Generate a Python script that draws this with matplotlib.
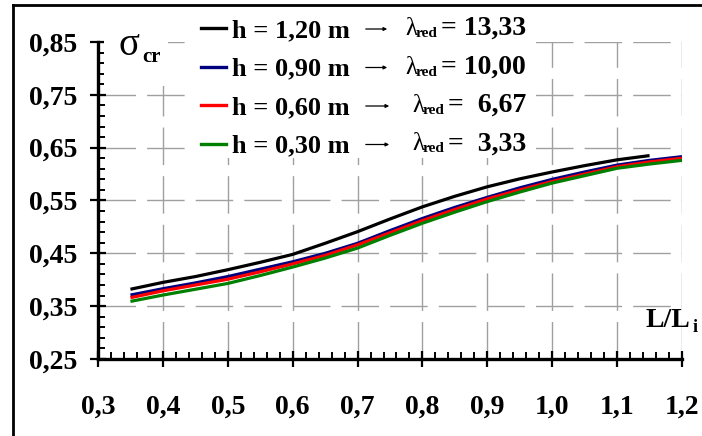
import numpy as np
import matplotlib
matplotlib.use('Agg')
import matplotlib.pyplot as plt
from matplotlib.ticker import FixedLocator, FuncFormatter
from matplotlib.lines import Line2D
from matplotlib.patches import Rectangle, FancyArrowPatch

# ---- data ----
x_long = [0.35, 0.40, 0.45, 0.50, 0.55, 0.60, 0.65, 0.70, 0.75, 0.80,
          0.85, 0.90, 0.95, 1.00, 1.05, 1.10, 1.15, 1.20]
x_black = x_long[:-1]
y_black = [0.382, 0.395, 0.406, 0.419, 0.433, 0.448, 0.469, 0.491, 0.515,
           0.538, 0.558, 0.576, 0.591, 0.604, 0.616, 0.627, 0.635]
y_blue = [0.371, 0.383, 0.394, 0.406, 0.420, 0.434, 0.450, 0.469, 0.493,
          0.516, 0.537, 0.556, 0.574, 0.590, 0.604, 0.617, 0.626, 0.633]
y_red = [0.366, 0.379, 0.390, 0.401, 0.415, 0.430, 0.446, 0.466, 0.489,
         0.512, 0.533, 0.553, 0.570, 0.586, 0.600, 0.614, 0.623, 0.630]
y_green = [0.359, 0.371, 0.382, 0.393, 0.408, 0.424, 0.441, 0.460, 0.484,
           0.507, 0.528, 0.548, 0.566, 0.583, 0.597, 0.611, 0.619, 0.626]

x_ticks = [0.3, 0.4, 0.5, 0.6, 0.7, 0.8, 0.9, 1.0, 1.1, 1.2]
y_ticks = [0.25, 0.35, 0.45, 0.55, 0.65, 0.75, 0.85]

h_labels = ['h = 1,20 m', 'h = 0,90 m', 'h = 0,60 m', 'h = 0,30 m']
lam_values = ['= 13,33', '= 10,00', '=  6,67', '=  3,33']
colors = ['#000000', '#00007f', '#ff0000', '#008000']

W, H = 702, 436
SERIF = 'Liberation Serif'
plt.rcParams['font.family'] = SERIF

fig = plt.figure(figsize=(W / 100, H / 100), dpi=100)


def fx(px):
    return px / W


def fy(py):
    return 1 - py / H


ax = fig.add_axes([fx(98), fy(359), (682 - 98) / W, (359 - 42) / H])
ax.set_xlim(0.3, 1.2)
ax.set_ylim(0.25, 0.85)

series = [(x_black, y_black), (x_long, y_blue), (x_long, y_red), (x_long, y_green)]
for (xs, ys), c in zip(series, colors):
    ax.plot(xs, ys, color=c, lw=2.3, solid_capstyle='butt', zorder=3)

# axes styling
for s in ['top', 'right']:
    ax.spines[s].set_visible(False)
for s in ['left', 'bottom']:
    ax.spines[s].set_linewidth(2.4)
    ax.spines[s].set_color('black')

ax.xaxis.set_major_locator(FixedLocator(x_ticks))
ax.xaxis.set_minor_locator(FixedLocator(np.round(np.arange(0.3, 1.2001, 0.02), 3)))
ax.yaxis.set_major_locator(FixedLocator(y_ticks))
ax.yaxis.set_minor_locator(FixedLocator(np.round(np.arange(0.25, 0.8501, 0.02), 3)))
ax.xaxis.set_major_formatter(FuncFormatter(lambda v, p: f'{v:.1f}'.replace('.', ',')))
ax.yaxis.set_major_formatter(FuncFormatter(lambda v, p: f'{v:.2f}'.replace('.', ',')))

ax.tick_params(which='major', direction='inout', length=12, width=1.6,
               labelsize=20, color='black')
ax.tick_params(which='minor', direction='in', length=5, width=1.4, color='black')
ax.tick_params(axis='x', which='major', pad=20)
ax.tick_params(axis='y', which='major', pad=9)
for lab in ax.get_xticklabels() + ax.get_yticklabels():
    lab.set_fontweight('bold')
    lab.set_fontfamily(SERIF)

ax.set_axisbelow(True)
ax.grid(True, which='major', color='#a0a0a0', lw=1.0, linestyle=(0, (27, 8)))

# white masks behind the labels (grid hidden there)
fig.add_artist(Rectangle((fx(104), fy(86)), (168 - 104) / W, (86 - 20) / H,
                         transform=fig.transFigure, facecolor='white',
                         edgecolor='none', zorder=1))
fig.add_artist(Rectangle((fx(192), fy(158)), (528 - 192) / W, (158 - 12) / H,
                         transform=fig.transFigure, facecolor='white',
                         edgecolor='none', zorder=1))

# outer frame (top and left visible)
fig.add_artist(Line2D([fx(13), 1.01], [fy(5.5), fy(5.5)], transform=fig.transFigure,
                      color='black', lw=2.0, zorder=5))
fig.add_artist(Line2D([fx(13), fx(13)], [fy(5.5), -0.01], transform=fig.transFigure,
                      color='black', lw=2.0, zorder=5))

# sigma_cr label
fig.text(fx(119), fy(55), 'σ', fontsize=28, fontfamily=SERIF, fontweight='normal',
         va='baseline', ha='left', zorder=6)
fig.text(fx(142), fy(62), 'cr', fontsize=15, fontfamily=SERIF, fontweight='bold',
         va='baseline', ha='left', zorder=6)

# L/L_i label
fig.text(fx(646), fy(327), 'L/L', fontsize=20, fontfamily=SERIF, fontweight='bold',
         va='baseline', ha='left', zorder=6)
fig.text(fx(693), fy(332), 'i', fontsize=13, fontfamily=SERIF, fontweight='bold',
         va='baseline', ha='left', zorder=6)

# legend
row_y = [28, 66.5, 105, 143.5]
lam_x = [405, 405, 412, 412]
arrow_end = [390, 390, 392, 392]
for i in range(4):
    y = row_y[i]
    fig.add_artist(Line2D([fx(201), fx(226)], [fy(y), fy(y)], transform=fig.transFigure,
                          color=colors[i], lw=2.4, zorder=6))
    fig.text(fx(232), fy(y + 9), h_labels[i], fontsize=19, fontfamily=SERIF,
             fontweight='bold', va='baseline', ha='left', zorder=6)
    fig.add_artist(FancyArrowPatch((fx(363), fy(y + 1)), (fx(arrow_end[i]), fy(y + 1)),
                                   transform=fig.transFigure, arrowstyle='-|>',
                                   mutation_scale=5, lw=0.9, color='black', zorder=6))
    fig.text(fx(lam_x[i]), fy(y + 7), 'λ', fontsize=18, fontfamily=SERIF,
             fontweight='normal', va='baseline', ha='left', zorder=6)
    fig.text(fx(lam_x[i] + 11), fy(y + 9), 'red', fontsize=11, fontfamily=SERIF,
             fontweight='bold', va='baseline', ha='left', zorder=6)
    fig.text(fx(526), fy(y + 7), lam_values[i], fontsize=20, fontfamily=SERIF,
             fontweight='bold', va='baseline', ha='right', zorder=6)

fig.savefig('out.png', dpi=100)
